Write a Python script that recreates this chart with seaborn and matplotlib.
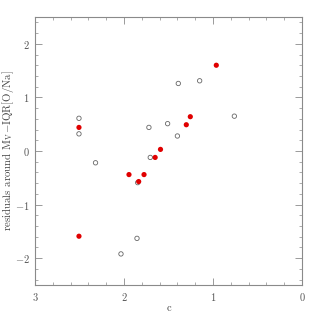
import numpy as np
import pandas as pd
import seaborn as sns
import matplotlib
matplotlib.use("Agg")
import matplotlib.pyplot as plt
from matplotlib.ticker import MultipleLocator

# open (grey) points
c_open = [2.506, 2.506, 2.32, 1.72, 1.705, 1.39, 1.15, 1.51, 1.40, 0.76, 1.846, 1.854, 2.034]
res_open = [0.61, 0.32, -0.22, 0.44, -0.12, 1.26, 1.31, 0.51, 0.28, 0.65, -0.59, -1.63, -1.92]

# filled (red) points
c_fill = [2.506, 0.963, 1.255, 1.30, 1.59, 1.65, 1.944, 1.775, 1.835, 2.506]
res_fill = [0.44, 1.60, 0.64, 0.49, 0.03, -0.12, -0.44, -0.44, -0.57, -1.59]

df_open = pd.DataFrame({"c": c_open, "res": res_open})
df_fill = pd.DataFrame({"c": c_fill, "res": res_fill})

sns.set_theme(style="ticks")
plt.rcParams["font.family"] = ["cmr10", "DejaVu Serif"]
plt.rcParams["mathtext.fontset"] = "cm"
plt.rcParams["axes.formatter.use_mathtext"] = True

grey = "#8a8a8a"

fig = plt.figure(figsize=(3.19, 3.19), dpi=100)
ax = fig.add_axes([35 / 319, 1 - 285 / 319, 267 / 319, 268 / 319])

sns.scatterplot(data=df_open, x="c", y="res", ax=ax, s=10, marker="o",
                facecolor="none", edgecolor="#666666", linewidth=0.6, zorder=3)
sns.scatterplot(data=df_fill, x="c", y="res", ax=ax, s=14, marker="o",
                color="#e00000", edgecolor="none", linewidth=0, zorder=4)

ax.set_xlim(3, 0)
ax.set_ylim(-2.5, 2.5)
ax.xaxis.set_major_locator(MultipleLocator(1))
ax.xaxis.set_minor_locator(MultipleLocator(0.2))
ax.yaxis.set_major_locator(MultipleLocator(1))
ax.yaxis.set_minor_locator(MultipleLocator(0.2))

for sp in ax.spines.values():
    sp.set_color(grey)
    sp.set_linewidth(0.8)
ax.tick_params(which="both", direction="in", top=True, right=True, color=grey,
               labelcolor="#555555", labelsize=7.5)
ax.tick_params(axis="x", pad=4)
ax.tick_params(axis="y", pad=4)
ax.tick_params(which="major", length=5, width=0.6)
ax.tick_params(which="minor", length=2.5, width=0.5)

ax.set_xlabel("c", fontsize=7.5, color="#444444", labelpad=1)
ax.set_ylabel(r"residuals around M$_{\rm V}$$-$IQR[O/Na]", fontsize=7.8,
              color="#444444")
ax.yaxis.set_label_coords(-0.07, 0.5)

fig.savefig("out.png", dpi=100)
